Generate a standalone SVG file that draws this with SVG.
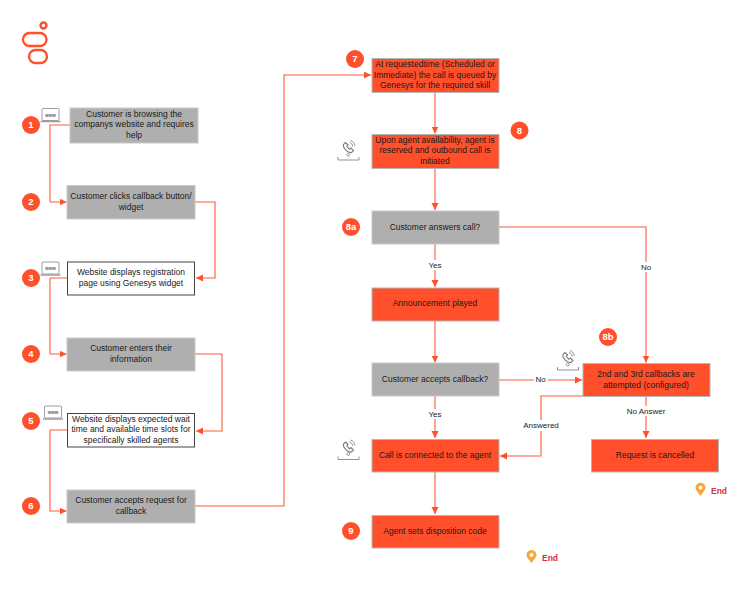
<svg xmlns="http://www.w3.org/2000/svg" width="749" height="600" viewBox="0 0 749 600">
<style>
text{font-family:"Liberation Sans",Arial,sans-serif;fill:#1a1a1a;text-anchor:middle}
.t{font-size:8.5px}
.l{font-size:8px;fill:#222}
.box{stroke-width:1}
.g{fill:#afafaf;stroke:#c9c9c9}
.o{fill:#ff4f2b;stroke:#b5b5b5}
.w{fill:#fff;stroke:#444}
.c{fill:none;stroke:#ff5a3c;stroke-width:1.100}
.lab{fill:#fff;stroke:none}
.b circle{fill:#ff4f2b}
.b text{fill:#fff;font-size:9.500px;font-weight:bold}
.i{fill:none;stroke:#777;stroke-width:.8}
.e{fill:#d5304a;font-size:8.500px;font-weight:bold;text-anchor:start}
.pin{fill:#f9a83a}
.www{font-size:4.500px;fill:#666;font-weight:bold}
</style>
<defs>
<marker id="a" markerUnits="userSpaceOnUse" markerWidth="8" markerHeight="8" refX="7" refY="3.500" orient="auto"><path d="M0 0L7 3.500L0 7Z" fill="#ff4f2b"/></marker>
<g id="laptop"><rect x="1.500" y="0" width="17" height="12" rx="1" fill="#fff" stroke="#777" stroke-width=".7"/><rect x="0" y="12.300" width="20" height="1.400" fill="#999"/></g>
<g id="phone"><path d="M2.500 3.500C1.500 6 6.500 12.500 10.500 11.500L12.500 9.500L9.800 7L8.300 8.300L5.800 5.300L7 3.800L4.500 1.500Z" fill="#fff" stroke="#777" stroke-width="1.100"/><path d="M8.500 1.500C10.500 2 11.500 3.500 11.800 5.500M9.500-.5C12 0 13.500 2.500 14 5" class="i"/><path d="M5.500 13.500L7.300 12L9 13.500L7.300 15.300Z" class="i"/><path d="M-3 16v3h21v-3" class="i"/></g>
<g id="pin"><path d="M5 13.300C3 10 0 7.500 0 5a5 5 0 0 1 10 0C10 7.500 7 10 5 13.300z" class="pin"/><circle cx="5" cy="5" r="1.900" fill="#fff"/></g>
</defs>

<g id="logo" fill="none" stroke="#ff4f2b" stroke-width="2.400">
<circle cx="43.500" cy="25.500" r="3"/>
<rect x="23" y="33" width="23.500" height="13" rx="6.500"/>
<rect x="29" y="50" width="18" height="13" rx="6.500"/>
</g>

<g id="connectors">
<path class="c" d="M70 125H50V202H66.500" marker-end="url(#a)"/>
<path class="c" d="M195 202H215V278H196" marker-end="url(#a)"/>
<path class="c" d="M67 278H50V354H66.500" marker-end="url(#a)"/>
<path class="c" d="M195 354H222V431H196" marker-end="url(#a)"/>
<path class="c" d="M67 430H50V511H66.500" marker-end="url(#a)"/>
<path class="c" d="M195 506H284V75H371" marker-end="url(#a)"/>
<path class="c" d="M435 93V133.500" marker-end="url(#a)"/>
<path class="c" d="M435 169V210" marker-end="url(#a)"/>
<path class="c" d="M435 244V287" marker-end="url(#a)"/>
<path class="c" d="M435 321V362.500" marker-end="url(#a)"/>
<path class="c" d="M435 396V438" marker-end="url(#a)"/>
<path class="c" d="M435 472V514" marker-end="url(#a)"/>
<path class="c" d="M499 227H646V362.500" marker-end="url(#a)"/>
<path class="c" d="M499 380H582" marker-end="url(#a)"/>
<path class="c" d="M583 396H541V456H500" marker-end="url(#a)"/>
<path class="c" d="M646 396V438" marker-end="url(#a)"/>
<rect class="lab" x="428" y="260" width="15" height="10"/><text class="l" x="435" y="267.500">Yes</text>
<rect class="lab" x="640" y="262" width="13" height="10"/><text class="l" x="646" y="270">No</text>
<rect class="lab" x="534" y="375" width="14" height="10"/><text class="l" x="540.500" y="382">No</text>
<rect class="lab" x="428" y="409" width="15" height="10"/><text class="l" x="435" y="417">Yes</text>
<rect class="lab" x="523" y="420" width="36" height="11"/><text class="l" x="541" y="428">Answered</text>
<rect class="lab" x="626" y="406" width="40" height="10"/><text class="l" x="646" y="413.500">No Answer</text>
</g>

<g id="n1"><rect class="box g" x="70" y="108" width="128" height="35"/><text class="t" x="134" y="117">Customer is browsing the</text><text class="t" x="134" y="127">companys website and requires</text><text class="t" x="134" y="137.500">help</text></g>
<g id="n2"><rect class="box g" x="67" y="185.500" width="128" height="33.500"/><text class="t" x="131" y="199">Customer clicks callback button/</text><text class="t" x="131" y="209.500">widget</text></g>
<g id="n3"><rect class="box w" x="67.500" y="262" width="127" height="33"/><text class="t" x="131" y="275">Website displays registration</text><text class="t" x="131" y="285.500">page using Genesys widget</text></g>
<g id="n4"><rect class="box g" x="67" y="338" width="128" height="33"/><text class="t" x="131" y="351">Customer enters their</text><text class="t" x="131" y="361.500">information</text></g>
<g id="n5"><rect class="box w" x="67.500" y="413.500" width="127" height="33.500"/><text class="t" x="131" y="422">Website displays expected wait</text><text class="t" x="131" y="432">time and available time slots for</text><text class="t" x="131" y="442.500">specifically skilled agents</text></g>
<g id="n6"><rect class="box g" x="67" y="490" width="128" height="33"/><text class="t" x="131" y="503">Customer accepts request for</text><text class="t" x="131" y="513.500">callback</text></g>
<g id="n7"><rect class="box o" x="372" y="58.500" width="127" height="34"/><text class="t" x="435" y="67">At requestedtime (Scheduled or</text><text class="t" x="435" y="77.500">Immediate) the call is queued by</text><text class="t" x="435" y="88">Genesys for the required skill</text></g>
<g id="n8"><rect class="box o" x="372" y="134.500" width="127" height="34"/><text class="t" x="435" y="143">Upon agent availability, agent is</text><text class="t" x="435" y="153">reserved and outbound call is</text><text class="t" x="435" y="163.500">initiated</text></g>
<g id="n8a"><rect class="box g" x="372" y="211" width="127" height="33"/><text class="t" x="435" y="229.500">Customer answers call?</text></g>
<g id="n-ann"><rect class="box o" x="372" y="288" width="127" height="33"/><text class="t" x="435" y="306">Announcement played</text></g>
<g id="n-acc"><rect class="box g" x="372" y="363" width="127" height="33"/><text class="t" x="435" y="381.500">Customer accepts callback?</text></g>
<g id="n-conn"><rect class="box o" x="372" y="439.500" width="127" height="32.500"/><text class="t" x="435" y="458">Call is connected to the agent</text></g>
<g id="n9"><rect class="box o" x="372" y="515.500" width="127" height="32.500"/><text class="t" x="435" y="534">Agent sets disposition code</text></g>
<g id="n8b"><rect class="box o" x="583" y="363.500" width="127" height="33"/><text class="t" x="646" y="377">2nd and 3rd callbacks are</text><text class="t" x="646" y="387.500">attempted (configured)</text></g>
<g id="n-can"><rect class="box o" x="591.500" y="439.500" width="127" height="32.500"/><text class="t" x="655" y="458">Request is cancelled</text></g>

<g id="badges" class="b">
<g id="b1"><circle cx="31" cy="125" r="9"/><text x="31" y="128.300">1</text></g>
<g id="b2"><circle cx="31" cy="202" r="9"/><text x="31" y="205.300">2</text></g>
<g id="b3"><circle cx="31" cy="278" r="9"/><text x="31" y="281.300">3</text></g>
<g id="b4"><circle cx="31" cy="354" r="9"/><text x="31" y="357.300">4</text></g>
<g id="b5"><circle cx="31" cy="421" r="9"/><text x="31" y="424.300">5</text></g>
<g id="b6"><circle cx="31" cy="506" r="9"/><text x="31" y="509.300">6</text></g>
<g id="b7"><circle cx="355" cy="59" r="9"/><text x="355" y="62.300">7</text></g>
<g id="b8"><circle cx="519.500" cy="130.500" r="9"/><text x="519.500" y="133.800">8</text></g>
<g id="b8a"><circle cx="351" cy="227" r="9"/><text x="351" y="230.300">8a</text></g>
<g id="b8b"><circle cx="608" cy="337" r="9"/><text x="608" y="340.300">8b</text></g>
<g id="b9"><circle cx="351" cy="531" r="9"/><text x="351" y="534.300">9</text></g>
</g>

<g id="icons">
<use href="#laptop" x="40.500" y="108.500"/><text class="www" x="50.500" y="116.500">www</text>
<use href="#laptop" x="40.500" y="262"/><text class="www" x="50.500" y="270">www</text>
<use href="#laptop" x="43" y="406"/><text class="www" x="53" y="414">www</text>
<use href="#phone" x="341" y="141"/>
<use href="#phone" x="341" y="440.500"/>
<use href="#phone" x="560.500" y="351"/>
</g>

<g id="end1"><use href="#pin" x="695.500" y="482.700"/><text class="e" x="711" y="494">End</text></g>
<g id="end2"><use href="#pin" x="526.500" y="550"/><text class="e" x="542" y="560.500">End</text></g>
</svg>
